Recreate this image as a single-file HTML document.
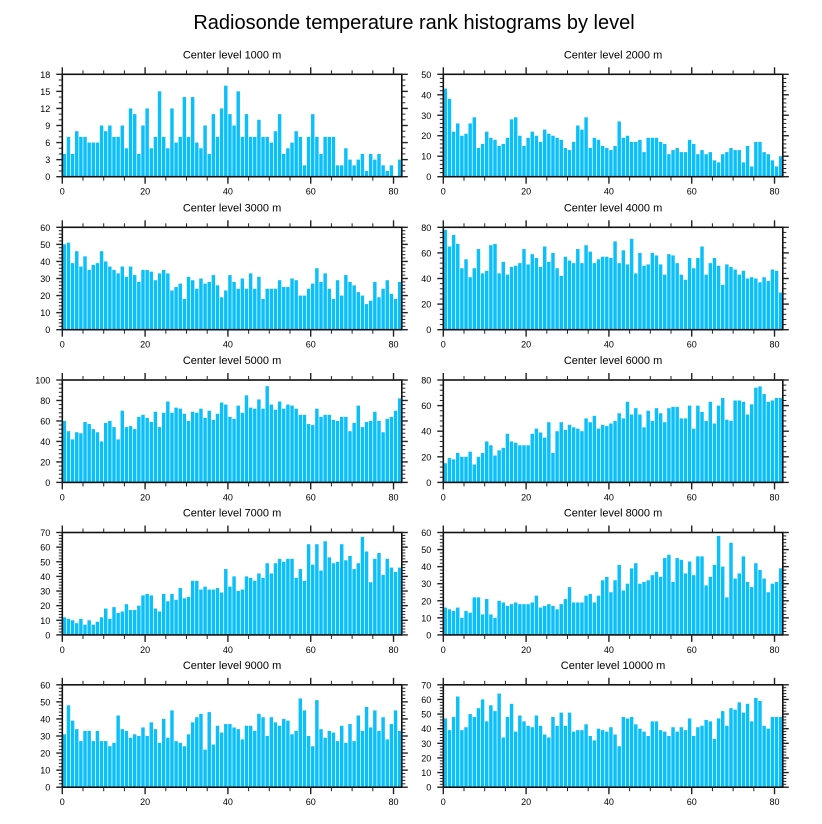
<!DOCTYPE html>
<html><head><meta charset="utf-8"><style>
html,body{margin:0;padding:0;background:#fff;}
svg{display:block;font-family:"Liberation Sans",Arial,sans-serif;}
</style></head><body>
<svg id="chart" width="822" height="824" viewBox="0 0 822 824">
<text x="414" y="29" text-anchor="middle" font-size="20" fill="#000">Radiosonde temperature rank histograms by level</text>
</svg>
<script>
const levels = ["1000","2000","3000","4000","5000","6000","7000","8000","9000","10000"];
const yMaxes = [18,50,60,80,100,80,70,60,60,70];
const yMajor = [3,10,10,20,20,20,10,10,10,10];
const xTicks = [0,20,40,60,80];
const v1000 = [4,7,4,8,7,7,6,6,6,9,8,9,7,7,9,5,12,11,4,9,12,5,7,15,7,5,12,6,7,14,7,14,6,5,9,4,11,7,12,16,11,9,15,7,11,7,7,10,7,7,6,8,11,4,5,6,8,7,2,7,11,7,4,7,7,7,2,2,5,3,2,3,4,1,4,3,4,2,1,2,0,3];
const v2000 = [43,38,22,26,20,21,26,29,14,16,22,19,18,15,16,19,28,29,20,15,19,22,20,17,23,21,20,19,18,14,13,17,25,23,29,14,19,18,15,14,13,15,27,19,20,17,17,18,12,19,19,19,17,16,11,13,14,12,12,18,16,11,13,11,12,8,7,11,12,14,13,13,7,15,5,17,17,12,11,8,5,10];
const v3000 = [50,51,39,46,37,43,35,38,39,46,40,37,35,33,37,31,37,32,28,35,35,34,29,33,35,33,23,25,27,18,31,29,24,30,27,28,32,26,19,23,32,28,24,30,24,33,24,31,18,24,24,24,29,25,25,30,29,20,20,24,27,36,28,33,24,18,29,20,32,28,26,22,20,15,17,28,19,24,29,21,18,28];
const v4000 = [78,65,74,67,48,55,41,48,63,44,46,66,67,44,53,43,49,50,52,63,51,59,56,49,65,53,60,48,42,57,54,52,63,52,66,61,52,55,57,57,56,69,52,62,51,71,44,60,50,51,60,58,51,43,59,58,52,43,39,56,48,56,65,43,52,56,50,35,51,49,47,43,46,40,41,40,37,41,38,47,46,29];
const v5000 = [60,50,42,49,48,59,57,52,49,40,58,60,54,42,70,54,55,52,64,66,63,59,69,54,68,79,68,73,72,67,60,69,68,72,63,70,61,67,78,76,64,62,75,68,85,73,72,81,72,94,76,71,79,72,76,75,72,66,66,57,56,72,64,66,66,61,60,64,64,50,58,75,54,59,60,69,60,49,62,64,70,82];
const v6000 = [15,19,18,23,20,20,24,14,20,23,32,29,21,25,27,38,32,31,29,29,29,38,42,39,35,47,23,40,47,41,45,43,42,40,50,47,52,42,45,44,46,48,54,50,63,53,58,53,43,56,48,58,54,47,58,59,59,50,50,60,42,60,55,48,63,46,60,66,49,48,64,64,63,53,61,74,75,69,63,64,66,66];
const v7000 = [12,11,10,8,11,7,10,7,9,12,18,11,19,15,16,21,17,17,20,27,28,27,18,16,28,23,28,24,32,25,26,37,37,31,33,31,31,32,29,45,33,40,30,31,40,39,37,42,39,49,42,49,52,50,52,52,39,45,37,62,48,62,44,64,53,49,50,62,51,54,45,49,67,57,36,52,56,41,52,46,43,46];
const v8000 = [16,15,14,16,10,14,13,22,22,12,21,12,10,20,19,17,18,19,18,18,18,19,23,16,17,18,17,15,18,21,28,19,19,19,23,24,19,23,32,34,25,32,41,26,30,39,42,30,31,32,35,37,34,45,47,31,45,44,36,43,35,46,46,29,34,41,58,40,22,54,33,36,46,31,28,42,38,33,25,30,31,39];
const v9000 = [31,48,39,34,27,33,33,27,33,27,27,24,26,42,34,33,29,31,30,35,30,38,34,26,40,29,45,27,26,24,31,38,41,43,22,44,25,36,32,37,37,35,34,28,36,36,33,43,41,30,41,38,36,40,39,31,33,52,45,30,24,51,34,29,33,32,27,36,26,37,27,42,33,47,35,45,33,41,28,37,45,33];
const v10000 = [47,39,48,62,39,41,50,48,54,60,45,56,52,64,34,48,57,38,49,45,42,41,49,42,36,34,48,42,51,42,51,38,39,39,43,35,32,40,39,38,41,36,28,48,47,48,43,40,38,35,45,45,39,38,35,41,38,41,39,47,35,41,42,46,45,33,47,52,42,54,53,58,51,57,45,61,59,42,40,48,48,48];
const series = [v1000,v2000,v3000,v4000,v5000,v6000,v7000,v8000,v9000,v10000];

const NS = "http://www.w3.org/2000/svg";
const svg = document.getElementById("chart");
function mk(tag, attrs, parent){
  const e = document.createElementNS(NS, tag);
  for (const k in attrs) e.setAttribute(k, attrs[k]);
  (parent||svg).appendChild(e);
  return e;
}
const colX = [62.3, 443.3];
const rowY = [74.3, 227.3, 380, 532.5, 684.8];
const PW = 339.5, PH = 102.4, XMAX = 82;

for (let p = 0; p < 10; p++) {
  const left = colX[p % 2], top = rowY[Math.floor(p / 2)];
  const bottom = top + PH, right = left + PW;
  const ymax = yMaxes[p], step = yMajor[p];
  const xs = v => left + v / XMAX * PW;
  const ys = v => bottom - v / ymax * PH;
  const g = mk("g", {});
  
  

  const t = mk("text", {x: (left + right) / 2, y: top - 16, "text-anchor": "middle", "font-size": "11", fill: "#000"}, g);
  t.textContent = "Center level " + levels[p] + " m";
  
  

  const vals = series[p];
  for (let i = 0; i < vals.length; i++) {
    const x0 = xs(i), x1 = xs(i + 1);
    const r = mk("rect", {x: x0 + 0.3, y: ys(vals[i]), width: (x1 - x0) - 0.7, height: bottom - ys(vals[i]), fill: "#0bbffb"}, g);
    
    
  }

  const fr = mk("rect", {x: left, y: top, width: PW, height: PH, fill: "none", stroke: "#111", "stroke-width": "1.6"}, g);
  
  

  // x ticks
  for (let v = 0; v <= XMAX; v += 5) {
    const x = xs(v), maj = v % 20 === 0, L = maj ? 7 : 4;
    mk("line", {x1: x, x2: x, y1: bottom, y2: bottom + L, stroke: "#222", "stroke-width": maj ? 1.4 : 1}, g);
    mk("line", {x1: x, x2: x, y1: top, y2: top - L, stroke: "#222", "stroke-width": maj ? 1.4 : 1}, g);
  }
  xTicks.forEach(v => {
    const tx = mk("text", {x: xs(v), y: bottom + 18, "text-anchor": "middle", "font-size": "9", fill: "#000"}, g);
    tx.textContent = v;
    
    
  });
  // y ticks
  const minor = step === 3 ? 1 : step / 5;
  for (let k = 0; k * minor <= ymax + 1e-9; k++) {
    const v = k * minor, y = ys(v);
    const maj = Math.abs(v / step - Math.round(v / step)) < 1e-9, L = maj ? 6 : 3.5;
    mk("line", {x1: left, x2: left - L, y1: y, y2: y, stroke: "#222", "stroke-width": maj ? 1.4 : 1}, g);
    mk("line", {x1: right, x2: right + L, y1: y, y2: y, stroke: "#222", "stroke-width": maj ? 1.4 : 1}, g);
  }
  for (let v = 0; v <= ymax; v += step) {
    const ty = mk("text", {x: left - 12, y: ys(v) + 3.5, "text-anchor": "end", "font-size": "9", fill: "#000"}, g);
    ty.textContent = v;
    
    
  }
}
</script>
</body></html>
